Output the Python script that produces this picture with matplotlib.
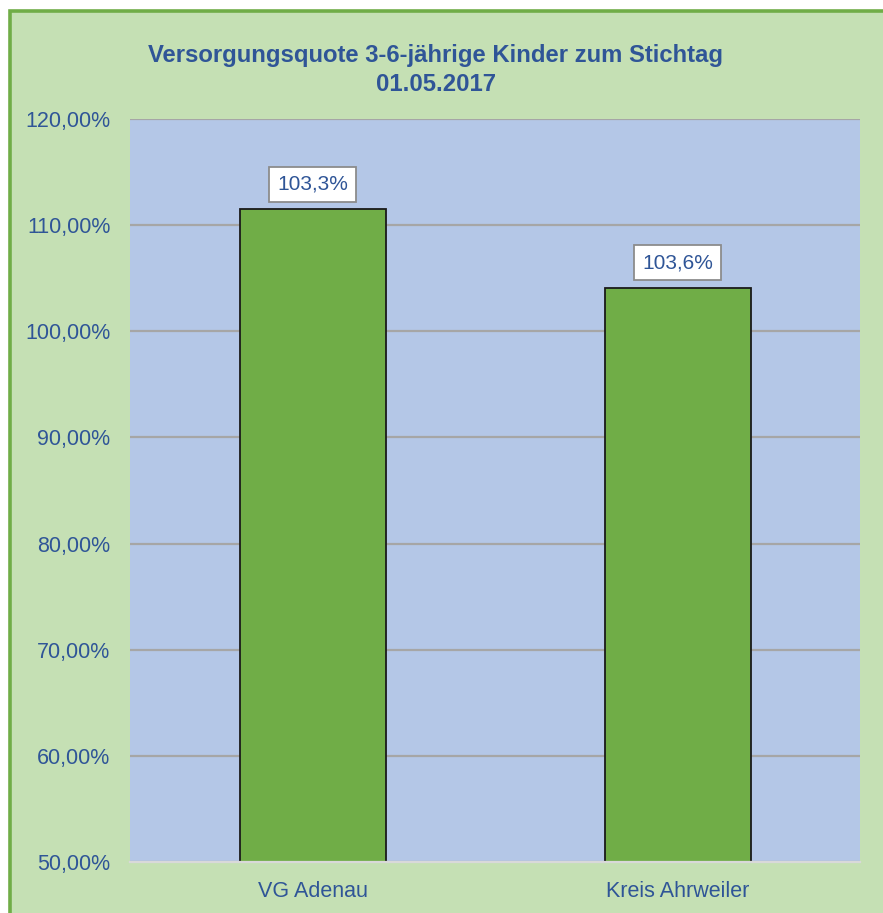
import matplotlib
matplotlib.use("Agg")
import matplotlib.pyplot as plt
from matplotlib.patches import Rectangle
from matplotlib.ticker import FuncFormatter

categories = ["VG Adenau", "Kreis Ahrweiler"]
values = [111.5, 104.1]
value_labels = ["103,3%", "103,6%"]
title = "Versorgungsquote 3-6-jährige Kinder zum Stichtag\n01.05.2017"
y_ticks = [50, 60, 70, 80, 90, 100, 110, 120]

plt.rcParams['font.family'] = ['Liberation Sans', 'DejaVu Sans']
text_col = "#2F5597"

W, H = 883, 913
fig = plt.figure(figsize=(W / 100, H / 100), dpi=100)
fig.patch.set_facecolor("white")

# outer chart frame
frame = Rectangle((9.75 / W, 0 - 0.05), 1.1, 1 - 10.75 / H + 0.05,
                  transform=fig.transFigure, facecolor="#C5E0B4",
                  edgecolor="#70AD47", linewidth=2.6, zorder=-10)
fig.add_artist(frame)

ax = fig.add_axes([130 / W, 1 - 862 / H, 730 / W, 743 / H])
ax.set_zorder(1)
ax.set_facecolor("#B4C7E7")
x = range(len(categories))
ax.bar(x, values, width=0.4, bottom=0, color="#70AD47", edgecolor="#1a1a1a",
       linewidth=1.3, zorder=3)
ax.set_xlim(-0.5, 1.5)
ax.set_ylim(50, 120)
ax.set_yticks(y_ticks)
ax.yaxis.set_major_formatter(FuncFormatter(lambda v, p: f"{v:.2f}".replace(".", ",") + "%"))
ax.grid(axis="y", color="#A6A6A6", linewidth=1.6, zorder=1)
ax.set_axisbelow(True)
for s in ["left", "right", "top"]:
    ax.spines[s].set_visible(False)
ax.spines["bottom"].set_color("#D9D9D9")
ax.spines["bottom"].set_linewidth(1.6)
ax.spines["bottom"].set_zorder(4)
ax.tick_params(axis="both", length=0, labelsize=15.5, labelcolor=text_col)
ax.tick_params(axis="y", pad=14)
ax.tick_params(axis="x", pad=14)
ax.set_xticks(list(x))
ax.set_xticklabels(categories)

for xi, v, lab in zip(x, values, value_labels):
    ax.annotate(lab, (xi, v), xytext=(0, 18), textcoords="offset points",
                ha="center", va="center", fontsize=15, color=text_col, zorder=5,
                bbox=dict(boxstyle="square,pad=0.38", facecolor="white",
                          edgecolor="#8C8C8C", linewidth=1.3))

fig.text(436 / W, 1 - 70 / H, title, ha="center", va="center", fontsize=17.2,
         fontweight="bold", color=text_col, linespacing=1.32)

fig.savefig("out.png", dpi=100, facecolor=fig.get_facecolor())
